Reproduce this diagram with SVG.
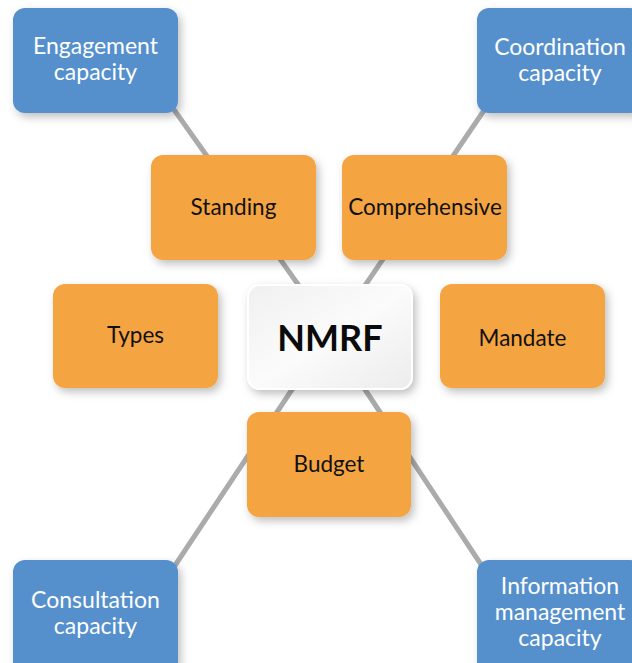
<svg xmlns="http://www.w3.org/2000/svg" width="632" height="663" viewBox="0 0 632 663">
<style>
.blue{fill:#5590cd;filter:url(#sh)}
.orange{fill:#f5a442;filter:url(#sh)}
.tb{font-family:Lato,"Liberation Sans",sans-serif;font-size:23px;fill:#ffffff;text-anchor:middle}
.to{font-family:Lato,"Liberation Sans",sans-serif;font-size:22.5px;fill:#111111;text-anchor:middle}
.ln{stroke:#ababab;stroke-width:5;fill:none}
</style>
<defs>
<filter id="sh" x="-20%" y="-20%" width="150%" height="150%">
<feDropShadow dx="3" dy="4" stdDeviation="4" flood-color="#000" flood-opacity="0.25"/>
</filter>
<linearGradient id="wg" x1="0" y1="0" x2="1" y2="1">
<stop offset="0" stop-color="#f0f0f1"/>
<stop offset="0.5" stop-color="#fbfbfb"/>
<stop offset="1" stop-color="#ececec"/>
</linearGradient>
</defs>
<g id="connectors">
<line class="ln" x1="170" y1="104" x2="302" y2="290"/>
<line class="ln" x1="487" y1="106" x2="362" y2="290"/>
<line class="ln" x1="295" y1="385" x2="172" y2="570"/>
<line class="ln" x1="362" y1="385" x2="486" y2="572"/>
</g>
<g id="engagement">
<rect class="blue" x="13" y="8" width="165" height="105" rx="12"/>
<text class="tb" x="95.5" y="54">Engagement</text>
<text class="tb" x="95.5" y="80">capacity</text>
</g>
<g id="coordination">
<rect class="blue" x="477" y="8" width="165" height="105" rx="12"/>
<text class="tb" x="560" y="55">Coordination</text>
<text class="tb" x="560" y="81">capacity</text>
</g>
<g id="standing">
<rect class="orange" x="151" y="155" width="165" height="105" rx="12"/>
<text class="to" x="233.5" y="215">Standing</text>
</g>
<g id="comprehensive">
<rect class="orange" x="342" y="155" width="165" height="105" rx="12"/>
<text class="to" x="425" y="215">Comprehensive</text>
</g>
<g id="types">
<rect class="orange" x="53" y="284" width="165" height="104" rx="12"/>
<text class="to" x="135.5" y="343">Types</text>
</g>
<g id="nmrf">
<rect x="248" y="285" width="164" height="104" rx="12" fill="url(#wg)" stroke="#ffffff" stroke-width="2" filter="url(#sh)"/>
<text x="330" y="351" font-family="Lato,'Liberation Sans',sans-serif" font-size="36" font-weight="bold" fill="#0a0a0a" text-anchor="middle">NMRF</text>
</g>
<g id="mandate">
<rect class="orange" x="440" y="284" width="165" height="104" rx="12"/>
<text class="to" x="522.5" y="346">Mandate</text>
</g>
<g id="budget">
<rect class="orange" x="247" y="412" width="164" height="105" rx="12"/>
<text class="to" x="329" y="472">Budget</text>
</g>
<g id="consultation">
<rect class="blue" x="13" y="560" width="165" height="115" rx="12"/>
<text class="tb" x="95.5" y="608">Consultation</text>
<text class="tb" x="95.5" y="634">capacity</text>
</g>
<g id="information">
<rect class="blue" x="477" y="560" width="165" height="115" rx="12"/>
<text class="tb" x="560" y="594">Information</text>
<text class="tb" x="560" y="620">management</text>
<text class="tb" x="560" y="646">capacity</text>
</g>
</svg>
